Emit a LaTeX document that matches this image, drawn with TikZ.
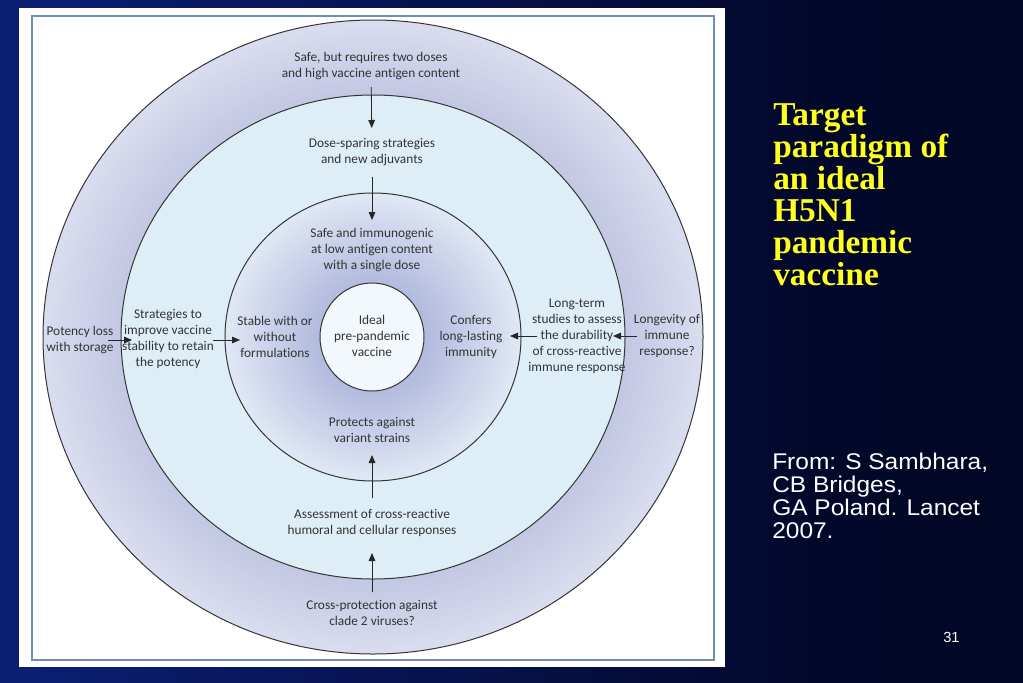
\documentclass[tikz,border=0pt]{standalone}
\usepackage{fontspec}
\setmainfont{Liberation Serif}
\newfontfamily\diagfont[Ligatures={NoCommon}]{Carlito}
\newfontfamily\titlefont{Liberation Serif}
\newfontfamily\fromfont[FakeStretch=1.08]{Liberation Sans}
\newfontfamily\numfont{Liberation Sans}
\usetikzlibrary{arrows.meta}
\definecolor{txt}{HTML}{333333}
\definecolor{ringline}{HTML}{353535}
\definecolor{outerLight}{HTML}{DADDEF}
\definecolor{outerDark}{HTML}{C2C7E3}
\definecolor{bandcol}{HTML}{DDEEF7}
\definecolor{thirdLight}{HTML}{E0E7F4}
\definecolor{thirdDark}{HTML}{B2BADE}
\definecolor{innercol}{HTML}{F2F8FC}
\definecolor{framecol}{HTML}{6D8FB5}
\definecolor{titleyellow}{HTML}{FFFF22}
\definecolor{bgA}{HTML}{132B98}
\definecolor{bgB}{HTML}{0A1C6C}
\definecolor{bgC}{HTML}{02082A}
\definecolor{bgD}{HTML}{010418}
\pgfdeclarehorizontalshading{slidebg}{100bp}{color(0bp)=(bgA); color(30bp)=(bgB); color(65bp)=(bgC); color(100bp)=(bgD)}
\begin{document}
\begin{tikzpicture}[x=0.75pt,y=-0.75pt,
  lbl/.style={font=\diagfont\fontsize{10pt}{12pt}\selectfont, text=txt, align=center, inner sep=0pt},
  ringstroke/.style={draw=ringline, line width=0.75pt},
  arr/.style={-{Triangle[length=6pt,width=5pt]}, line width=0.6pt, draw=black!85, fill=black!85}]
\useasboundingbox (0,0) rectangle (1023,682);
\shade[shading=slidebg] (0,0) rectangle (1023,682);
\fill[white] (19,8) rectangle (725,667);
\draw[framecol, line width=0.9pt] (32,16) rectangle (714,660);
% outer ring
\foreach \i in {0,...,30}{
  \pgfmathsetmacro{\rx}{330-\i/30*(330-252)}
  \pgfmathsetmacro{\ry}{317-\i/30*(317-242)}
  \pgfmathtruncatemacro{\p}{100*\i/30}
  \fill[outerDark!\p!outerLight] (373,337) ellipse [x radius=\rx, y radius=\ry];
}
\draw[ringstroke] (373,337) ellipse [x radius=330, y radius=317];
% middle band
\fill[bandcol] (373,337) ellipse [x radius=252, y radius=242];
\draw[ringstroke] (373,337) ellipse [x radius=252, y radius=242];
% third ring
\foreach \i in {0,...,40}{
  \pgfmathsetmacro{\rx}{148-\i/40*(148-53)}
  \pgfmathsetmacro{\ry}{144-\i/40*(144-54)}
  \pgfmathtruncatemacro{\p}{100*\i/40}
  \fill[thirdDark!\p!thirdLight] (373,337) ellipse [x radius=\rx, y radius=\ry];
}
\draw[ringstroke] (373,337) ellipse [x radius=148, y radius=144];
% inner disk
\filldraw[fill=innercol, ringstroke] (372,337) ellipse [x radius=52, y radius=54];

% texts
\node[lbl] (t1) at (371,66) {Safe, but requires two doses\\and high vaccine antigen content};
\node[lbl] (t2) at (372,152) {Dose-sparing strategies\\and new adjuvants};
\node[lbl] (t3) at (372,250) {Safe and immunogenic\\at low antigen content\\with a single dose};
\node[lbl] (ic) at (372,336) {Ideal\\pre-pandemic\\vaccine};
\node[lbl] (t5) at (372,430) {Protects against\\variant strains};
\node[lbl] (t6) at (372,523) {Assessment of cross-reactive\\humoral and cellular responses};
\node[lbl] (t7) at (372,613) {Cross-protection against\\clade 2 viruses?};
\node[lbl] (pl) at (80,340) {Potency loss\\with storage};
\node[lbl] (st) at (168,339) {Strategies to\\improve vaccine\\stability to retain\\the potency};
\node[lbl] (sw) at (275,337) {Stable with or\\without\\formulations};
\node[lbl] (cf) at (471,337) {Confers\\long-lasting\\immunity};
\node[lbl] (lt) at (577,336) {Long-term\\studies to assess\\the durability\\of cross-reactive\\immune response};
\node[lbl] (lg) at (667,336) {Longevity of\\immune\\response?};

% arrows
\draw[arr, shorten <=15.75pt, shorten >=18pt] (t1.center) -- (t2.center);
\draw[arr, shorten <=18.75pt, shorten >=22.5pt] (t2.center) -- (t3.center);
\draw[arr, shorten <=18.75pt, shorten >=18.75pt] (t6.center) -- (t5.center);
\draw[arr, shorten <=15.4pt, shorten >=22.5pt] (t7.center) -- (t6.center);
\draw[arr, shorten <=21pt, shorten >=27pt] (pl.center) -- (pl.center -| st.center);
\draw[arr, shorten <=33.75pt, shorten >=26.25pt] (st.center |- pl.center) -- (pl.center -| sw.center);
\draw[arr, shorten <=22.5pt, shorten >=27pt] (lg.center) -- (lg.center -| lt.center);
\draw[arr, shorten <=30pt, shorten >=29.25pt] (lt.center |- lg.center) -- (lg.center -| cf.center);

% slide texts
\node[anchor=north west, inner sep=0pt, align=left, text=titleyellow,
  font=\titlefont\bfseries\fontsize{25pt}{24pt}\selectfont] (title) at (773,103)
  {Target\\paradigm of\\an ideal\\H5N1\\pandemic\\vaccine};
\node[anchor=north west, inner sep=0pt, align=left, text=white,
  font=\fromfont\fontsize{17pt}{17.25pt}\selectfont] (from) at (772,453)
  {From: S Sambhara,\\CB Bridges,\\GA Poland. Lancet\\2007.};
\node[anchor=base west, inner sep=0pt, text=white,
  font=\numfont\fontsize{11pt}{13pt}\selectfont] (num) at (943,642) {31};
\end{tikzpicture}
\end{document}
